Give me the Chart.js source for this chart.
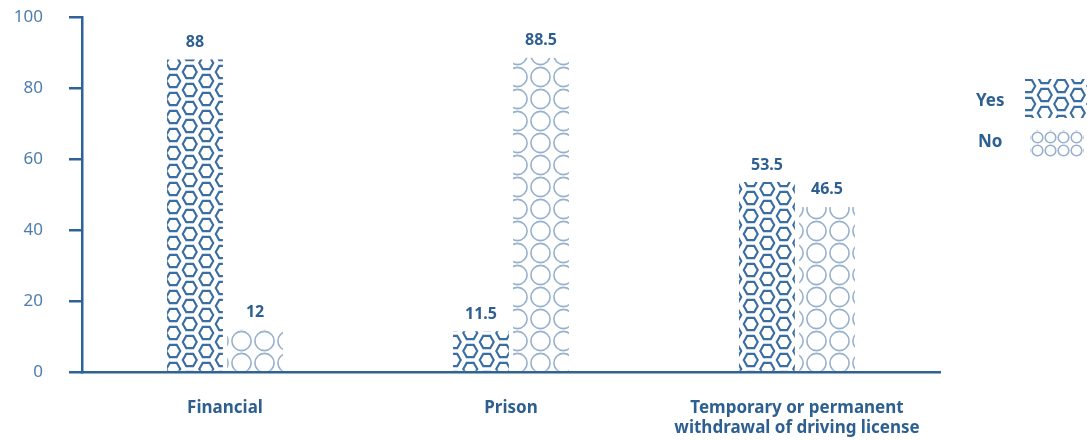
<!DOCTYPE html>
<html>
<head>
<meta charset="utf-8">
<script src="https://cdn.jsdelivr.net/npm/chart.js@4/dist/chart.umd.min.js"></script>
<style>
  html, body { margin: 0; padding: 0; background: #fff; }
  #wrap { width: 1087px; height: 440px; }
</style>
</head>
<body>
<div id="wrap"><canvas id="penaltyChart"></canvas></div>
<script>
// Data
const categories = ["Financial", "Prison", ["Temporary or permanent", "withdrawal of driving license"]];
const seriesNames = ["Yes", "No"];
const yesValues = [88, 11.5, 53.5];
const noValues = [12, 88.5, 46.5];
const yTicks = [0, 20, 40, 60, 80, 100];

const dark = "#2f6398";
const textBlue = "#2d5f91";
const tickBlue = "#4d7dac";
const lightBlue = "#97b0cc";
const fontFamily = "'Noto Sans', sans-serif";

// Hexagon pattern (Yes)
function hexPattern(ctx) {
  const tile = document.createElement("canvas");
  tile.width = 33;
  tile.height = 18;
  const t = tile.getContext("2d");
  t.strokeStyle = "#3a6da2";
  t.lineWidth = 2.1;
  const hex = (cx, cy) => {
    const rx = 7, ry = 6.1;
    t.beginPath();
    t.moveTo(cx - rx, cy);
    t.lineTo(cx - rx / 2, cy - ry);
    t.lineTo(cx + rx / 2, cy - ry);
    t.lineTo(cx + rx, cy);
    t.lineTo(cx + rx / 2, cy + ry);
    t.lineTo(cx - rx / 2, cy + ry);
    t.closePath();
    t.stroke();
  };
  hex(8.25, 9);
  hex(24.75, 0);
  hex(24.75, 18);
  return ctx.createPattern(tile, "repeat");
}

// Circle pattern (No)
function circlePattern(ctx, w, h, r) {
  const tile = document.createElement("canvas");
  tile.width = w;
  tile.height = h;
  const t = tile.getContext("2d");
  t.strokeStyle = lightBlue;
  t.lineWidth = 1.6;
  t.beginPath();
  t.arc(w / 2, h / 2, r, 0, Math.PI * 2);
  t.stroke();
  return ctx.createPattern(tile, "repeat");
}

const ctx = document.getElementById("penaltyChart").getContext("2d");
const yesFill = hexPattern(ctx);
const noFill = circlePattern(ctx, 23, 22, 9.6);
const yesLegendFill = hexPattern(ctx);
yesLegendFill.setTransform(new DOMMatrix().translate(1020, 77));
const noLegendFill = circlePattern(ctx, 13, 13, 5.3);
noLegendFill.setTransform(new DOMMatrix().translate(1031, 131));

// Value labels above bars
const valueLabels = {
  id: "valueLabels",
  afterDatasetsDraw(chart) {
    const c = chart.ctx;
    c.save();
    c.font = "bold 16px " + fontFamily;
    c.fillStyle = textBlue;
    c.textAlign = "center";
    c.textBaseline = "middle";
    chart.data.datasets.forEach((ds, i) => {
      chart.getDatasetMeta(i).data.forEach((bar, j) => {
        c.fillText(String(ds.data[j]), bar.x, bar.y - 17);
      });
    });
    c.restore();
  },
};

// Legend on the right: text then pattern swatch
const sideLegend = {
  id: "sideLegend",
  afterDraw(chart) {
    const c = chart.ctx;
    c.save();
    c.font = "bold 17px " + fontFamily;
    c.fillStyle = textBlue;
    c.textBaseline = "middle";
    c.fillText(seriesNames[0], 976, 101);
    c.fillText(seriesNames[1], 978, 142);
    c.fillStyle = yesLegendFill;
    c.fillRect(1025, 79, 62, 39);
    c.fillStyle = noLegendFill;
    c.fillRect(1030, 130, 54, 27);
    c.restore();
  },
};

new Chart(ctx, {
  type: "bar",
  data: {
    labels: categories,
    datasets: [
      {
        label: seriesNames[0],
        data: yesValues,
        backgroundColor: yesFill,
        borderWidth: 0,
        categoryPercentage: 0.42,
        barPercentage: 0.93,
      },
      {
        label: seriesNames[1],
        data: noValues,
        backgroundColor: noFill,
        borderWidth: 0,
        categoryPercentage: 0.42,
        barPercentage: 0.93,
      },
    ],
  },
  options: {
    responsive: true,
    maintainAspectRatio: false,
    animation: false,
    layout: {
      padding: { top: 17, right: 147, left: 12, bottom: 0 },
    },
    plugins: {
      legend: { display: false },
      tooltip: { enabled: false },
    },
    scales: {
      x: {
        grid: { display: false, drawTicks: false },
        border: { display: true, color: dark, width: 2.5 },
        ticks: {
          color: textBlue,
          padding: 26,
          font: { family: fontFamily, size: 17, weight: "bold" },
        },
        afterFit(scale) {
          scale.height = 68;
        },
      },
      y: {
        min: 0,
        max: 100,
        afterBuildTicks(scale) {
          scale.ticks = yTicks.map((v) => ({ value: v }));
        },
        grid: {
          drawOnChartArea: false,
          drawTicks: true,
          tickLength: 13,
          color: dark,
          lineWidth: 2.5,
        },
        border: { display: true, color: dark, width: 2.5 },
        ticks: {
          color: tickBlue,
          padding: 26,
          font: { family: fontFamily, size: 17 },
        },
        afterFit(scale) {
          scale.width = 70;
          scale.paddingTop = 0;
          scale.paddingBottom = 0;
        },
      },
    },
  },
  plugins: [valueLabels, sideLegend],
});
</script>
</body>
</html>
